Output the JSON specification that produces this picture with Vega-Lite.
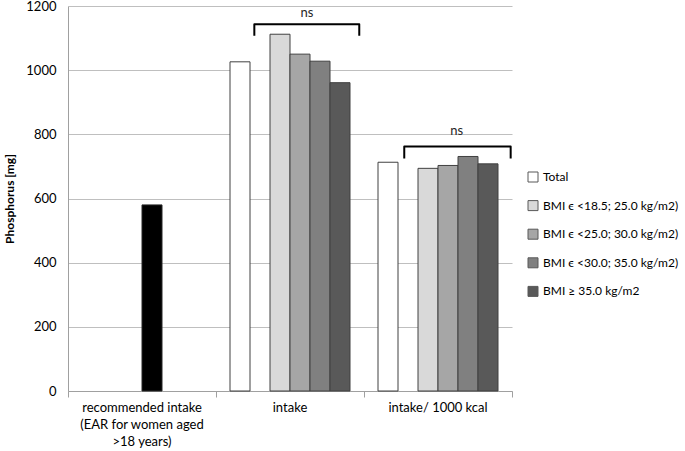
{
  "$schema": "https://vega.github.io/schema/vega-lite/v6.json",
  "width": 444,
  "height": 385,
  "autosize": {"type": "none"},
  "padding": {"left": 68, "top": 6, "right": 173, "bottom": 60},
  "background": "white",
  "config": {
    "font": "Lato",
    "view": {"stroke": null},
    "axis": {"labelFont": "Lato", "titleFont": "Lato"},
    "legend": {"labelFont": "Lato"}
  },
  "datasets": {
    "bars": [
      {"category": "recommended intake\n(EAR for women aged\n>18 years)", "series": "EAR", "value": 580},
      {"category": "intake", "series": "Total", "value": 1026},
      {"category": "intake", "series": "BMI ϵ <18.5; 25.0 kg/m2)", "value": 1112},
      {"category": "intake", "series": "BMI ϵ <25.0; 30.0 kg/m2)", "value": 1050},
      {"category": "intake", "series": "BMI ϵ <30.0; 35.0 kg/m2)", "value": 1028},
      {"category": "intake", "series": "BMI ≥ 35.0 kg/m2", "value": 961},
      {"category": "intake/ 1000 kcal", "series": "Total", "value": 713},
      {"category": "intake/ 1000 kcal", "series": "BMI ϵ <18.5; 25.0 kg/m2)", "value": 694},
      {"category": "intake/ 1000 kcal", "series": "BMI ϵ <25.0; 30.0 kg/m2)", "value": 703},
      {"category": "intake/ 1000 kcal", "series": "BMI ϵ <30.0; 35.0 kg/m2)", "value": 731},
      {"category": "intake/ 1000 kcal", "series": "BMI ≥ 35.0 kg/m2", "value": 708}
    ],
    "brackets": [
      {"bracket": "intake", "step": 1, "pos": 1.259, "value": 1107},
      {"bracket": "intake", "step": 2, "pos": 1.259, "value": 1143},
      {"bracket": "intake", "step": 3, "pos": 1.968, "value": 1143},
      {"bracket": "intake", "step": 4, "pos": 1.968, "value": 1107},
      {"bracket": "kcal", "step": 1, "pos": 2.272, "value": 725},
      {"bracket": "kcal", "step": 2, "pos": 2.272, "value": 762},
      {"bracket": "kcal", "step": 3, "pos": 2.991, "value": 762},
      {"bracket": "kcal", "step": 4, "pos": 2.991, "value": 725}
    ],
    "notes": [
      {"label": "ns", "pos": 1.615, "value": 1178},
      {"label": "ns", "pos": 2.626, "value": 809}
    ]
  },
  "layer": [
    {
      "layer": [
        {
          "data": {"name": "bars"},
          "transform": [{"filter": "datum.series !== 'EAR'"}],
          "mark": {"type": "bar", "stroke": "#404040", "strokeWidth": 1},
          "encoding": {
            "x": {
              "field": "category", "type": "nominal",
              "sort": ["recommended intake\n(EAR for women aged\n>18 years)", "intake", "intake/ 1000 kcal"],
              "scale": {"domain": ["recommended intake\n(EAR for women aged\n>18 years)", "intake", "intake/ 1000 kcal"], "paddingInner": 0, "paddingOuter": 0},
              "axis": {
                "title": null, "labelAngle": 0, "labelFontSize": 13, "labelColor": "#000000",
                "labelExpr": "split(datum.label, '\\n')", "labelLineHeight": 17,
                "labelPadding": 10, "ticks": false, "domainColor": "#a0a0a0", "labelBaseline": "top"
              }
            },
            "xOffset": {
              "field": "series", "type": "nominal",
              "scale": {"domain": ["Total", "EAR", "BMI ϵ <18.5; 25.0 kg/m2)", "BMI ϵ <25.0; 30.0 kg/m2)", "BMI ϵ <30.0; 35.0 kg/m2)", "BMI ≥ 35.0 kg/m2"], "paddingInner": 0, "paddingOuter": 0.7}
            },
            "y": {
              "field": "value", "type": "quantitative",
              "scale": {"domain": [0, 1200], "nice": false},
              "axis": {
                "title": "Phosphorus [mg]", "titleFontWeight": "bold", "titleFontSize": 12, "titleColor": "#000000",
                "values": [0, 200, 400, 600, 800, 1000, 1200], "format": "d", "grid": true, "gridColor": "#bfbfbf",
                "domainColor": "#a0a0a0", "ticks": false, "labelPadding": 12, "labelFontSize": 13, "labelColor": "#000000",
                "titlePadding": 9
              }
            },
            "color": {
              "field": "series", "type": "nominal",
              "scale": {
                "domain": ["Total", "BMI ϵ <18.5; 25.0 kg/m2)", "BMI ϵ <25.0; 30.0 kg/m2)", "BMI ϵ <30.0; 35.0 kg/m2)", "BMI ≥ 35.0 kg/m2"],
                "range": ["#ffffff", "#d9d9d9", "#a6a6a6", "#808080", "#595959"]
              },
              "legend": {
                "title": null, "orient": "none", "legendX": 459, "legendY": 165,
                "symbolType": "square", "symbolSize": 100, "symbolStrokeColor": "#595959", "symbolStrokeWidth": 1,
                "labelFontSize": 12, "labelColor": "#000000", "rowPadding": 14.6, "labelOffset": 4, "padding": 0
              }
            }
          }
        },
        {
          "data": {"name": "bars"},
          "transform": [{"filter": "datum.series === 'EAR'"}],
          "mark": {"type": "bar", "fill": "#000000", "stroke": "#262626", "strokeWidth": 1},
          "encoding": {
            "x": {
              "field": "category", "type": "nominal",
              "sort": ["recommended intake\n(EAR for women aged\n>18 years)", "intake", "intake/ 1000 kcal"]
            },
            "xOffset": {
              "field": "series", "type": "nominal",
              "scale": {"domain": ["s1", "s2", "s3", "EAR", "s5", "s6"], "paddingInner": 0, "paddingOuter": 0.7}
            },
            "y": {"field": "value", "type": "quantitative"}
          }
        }
      ],
      "resolve": {"scale": {"xOffset": "independent"}}
    },
    {
      "layer": [
        {
          "data": {"name": "brackets"},
          "mark": {"type": "line", "stroke": "#000000", "strokeWidth": 2, "strokeJoin": "round"},
          "encoding": {
            "x": {"field": "pos", "type": "quantitative", "scale": {"domain": [0, 3], "nice": false, "zero": false}, "axis": {"orient": "bottom", "values": [0, 1, 2, 3], "labels": false, "domain": false, "grid": false, "ticks": true, "tickSize": 6, "tickColor": "#a0a0a0", "title": null}},
            "y": {"field": "value", "type": "quantitative"},
            "detail": {"field": "bracket"},
            "order": {"field": "step"}
          }
        },
        {
          "data": {"name": "notes"},
          "mark": {"type": "text", "fontSize": 13, "color": "#262626", "baseline": "middle", "align": "center"},
          "encoding": {
            "x": {"field": "pos", "type": "quantitative"},
            "y": {"field": "value", "type": "quantitative"},
            "text": {"field": "label"}
          }
        }
      ]
    }
  ],
  "resolve": {"scale": {"x": "independent"}, "axis": {"x": "independent"}}
}
